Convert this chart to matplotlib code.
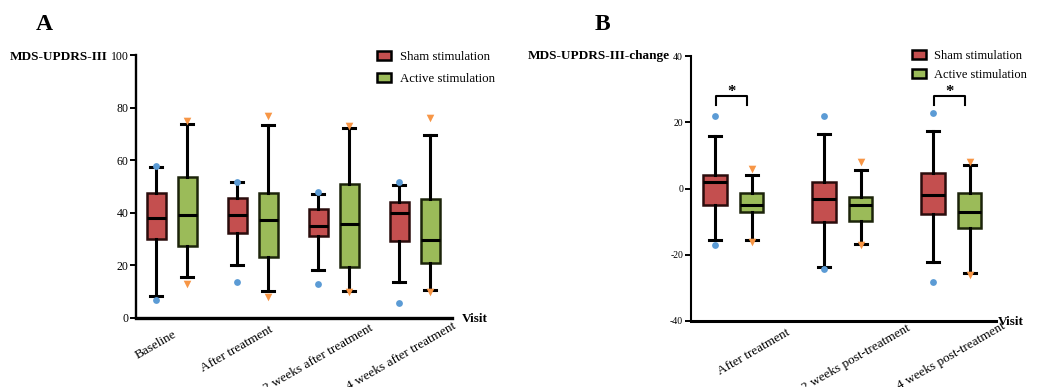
import matplotlib
matplotlib.use("Agg")
import matplotlib.pyplot as plt
from matplotlib.patches import Patch
from matplotlib.transforms import ScaledTranslation

plt.rcParams["font.family"] = ["Liberation Serif", "DejaVu Serif"]
plt.rcParams["axes.unicode_minus"] = False

# Panel A: MDS-UPDRS-III by visit   (whislo, q1, median, q3, whishi)
visits_a = ["Baseline", "After treatment", "2 weeks after treatment", "4 weeks after treatment"]
sham_a = [[8.4, 30.0, 37.9, 47.6, 57.4],
          [20.3, 32.4, 39.1, 45.7, 51.8],
          [18.1, 31.1, 34.9, 41.4, 47.0],
          [13.5, 29.3, 39.8, 44.0, 50.4]]
active_a = [[15.7, 27.3, 39.1, 53.7, 73.6],
            [10.2, 23.1, 37.4, 47.6, 73.2],
            [10.4, 19.4, 35.7, 50.8, 72.1],
            [10.5, 21.1, 29.6, 45.4, 69.4]]
sham_a_min = [6.9, 13.8, 12.9, 5.8]
sham_a_max = [57.7, 51.9, 47.8, 51.9]
active_a_min = [12.9, 8.0, 9.9, 9.9]
active_a_max = [75.0, 76.9, 73.0, 76.0]

# Panel B: change from baseline
visits_b = ["After treatment", "2 weeks post-treatment", "4 weeks post-treatment"]
sham_b = [[-15.6, -4.9, 1.9, 4.1, 15.8],
          [-23.8, -10.1, -3.3, 2.0, 16.4],
          [-22.3, -7.8, -2.0, 4.6, 17.3]]
active_b = [[-15.6, -7.0, -5.0, -1.4, 4.0],
            [-16.8, -9.8, -5.0, -2.5, 5.5],
            [-25.6, -11.8, -7.2, -1.4, 7.0]]
sham_b_min = [-17.2, -24.2, -28.1]
sham_b_max = [21.9, 21.9, 22.9]
active_b_min = [-16.0, -17.0, -26.2]
active_b_max = [6.0, 8.0, 8.0]
signif_b = [True, False, True]

SHAM_C = "#C44F4F"
ACT_C = "#9BBB59"
BLUE = "#5B9BD5"
ORANGE = "#F79646"

W, H = 1049, 387
fig = plt.figure(figsize=(W / 100, H / 100), dpi=100)


def to_stats(rows):
    return [dict(whislo=r[0], q1=r[1], med=r[2], q3=r[3], whishi=r[4], fliers=[]) for r in rows]


def draw_panel(ax, labels, sham, active, smin, smax, amin, amax, off, width, capw):
    x = list(range(len(labels)))
    ps = [i - off for i in x]
    pa = [i + off for i in x]
    for stats, pos, fc, ec in [(sham, ps, SHAM_C, "#2a0c0c"), (active, pa, ACT_C, "#1c240a")]:
        ax.bxp(to_stats(stats), positions=pos, widths=width, patch_artist=True,
               showfliers=False, capwidths=capw,
               boxprops=dict(facecolor=fc, edgecolor=ec, linewidth=1.8),
               whiskerprops=dict(color="black", linewidth=2.2),
               capprops=dict(color="black", linewidth=2.2),
               medianprops=dict(color="black", linewidth=2.2))
    ax.scatter(ps + ps, smin + smax, s=24, color=BLUE, marker="o", zorder=5, linewidths=0)
    ax.scatter(pa + pa, amin + amax, s=30, color=ORANGE, marker="v", zorder=5, linewidths=0)
    ax.set_xticks(x)
    ax.set_xticklabels(labels, rotation=30, ha="right", va="top",
                       rotation_mode="anchor", fontsize=9.5)
    ax.tick_params(axis="x", length=0, pad=0)
    ax.tick_params(axis="y", length=4.5, width=1.4, pad=1)
    for s in ["top", "right"]:
        ax.spines[s].set_visible(False)
    return ps, pa


# ---- Panel A
axA = fig.add_axes([136 / W, 1 - 318 / H, (452 - 136) / W, (318 - 55) / H])
draw_panel(axA, visits_a, sham_a, active_a, sham_a_min, sham_a_max,
           active_a_min, active_a_max, 0.19, 0.235, 0.15)
axA.set_xlim(-0.44, 3.46)
axA.set_ylim(0, 100)
axA.set_yticks([0, 20, 40, 60, 80, 100])
axA.tick_params(axis="y", labelsize=8.5)
axA.spines["left"].set_linewidth(1.7)
axA.spines["bottom"].set_linewidth(2.4)
for lab, (dx, dy) in zip(axA.get_xticklabels(), [(1, -10), (16, -6), (35, -4), (37, -2)]):
    lab.set_transform(lab.get_transform() + ScaledTranslation(dx / 100, dy / 100, fig.dpi_scale_trans))

# ---- Panel B
axB = fig.add_axes([690.7 / W, 1 - 321 / H, (996 - 690.7) / W, (321 - 56) / H])
ps, pa = draw_panel(axB, visits_b, sham_b, active_b, sham_b_min, sham_b_max,
                    active_b_min, active_b_max, 0.168, 0.217, 0.11)
axB.set_xlim(-0.39, 2.41)
axB.set_ylim(-40, 40)
axB.set_yticks([-40, -20, 0, 20, 40])
axB.tick_params(axis="y", labelsize=7)
axB.spines["left"].set_linewidth(1.5)
axB.spines["bottom"].set_linewidth(2.2)
for lab, (dx, dy) in zip(axB.get_xticklabels(), [(53, -6), (64, -1), (50, 1)]):
    lab.set_transform(lab.get_transform() + ScaledTranslation(dx / 100, dy / 100, fig.dpi_scale_trans))
for s, a, sig in zip(ps, pa, signif_b):
    if sig:
        axB.plot([s + 0.01, s + 0.01, a - 0.04, a - 0.04], [25.2, 27.9, 27.9, 25.2],
                 color="black", lw=1.5)
        axB.text((s + a) / 2 - 0.015, 29.2, "*", ha="center", va="center",
                 fontsize=12, fontweight="bold")

# ---- labels and legends
fig.text(107 / W, 1 - 57 / H, "MDS-UPDRS-III", ha="right", va="center",
         fontsize=9.5, fontweight="bold")
fig.text(670 / W, 1 - 56 / H, "MDS-UPDRS-III-change", ha="right", va="center",
         fontsize=9.5, fontweight="bold")
fig.text(462 / W, 1 - 319 / H, "Visit", ha="left", va="center", fontsize=9.5, fontweight="bold")
fig.text(998 / W, 1 - 322 / H, "Visit", ha="left", va="center", fontsize=9.5, fontweight="bold")
fig.text(36 / W, 1 - 25 / H, "A", ha="left", va="center", fontsize=17, fontweight="bold")
fig.text(595 / W, 1 - 24 / H, "B", ha="left", va="center", fontsize=17, fontweight="bold")

handles = [Patch(facecolor=SHAM_C, edgecolor="black", linewidth=1.8, label="Sham stimulation"),
           Patch(facecolor=ACT_C, edgecolor="black", linewidth=1.8, label="Active stimulation")]
fig.legend(handles=handles, loc="upper left", bbox_to_anchor=(377 / W, 1 - 51 / H),
           frameon=False, fontsize=9.3, borderpad=0, borderaxespad=0,
           handlelength=1.1, handleheight=0.7, handletextpad=0.7, labelspacing=0.78)
fig.legend(handles=handles, loc="upper left", bbox_to_anchor=(912 / W, 1 - 50 / H),
           frameon=False, fontsize=9.0, borderpad=0, borderaxespad=0,
           handlelength=1.1, handleheight=0.7, handletextpad=0.7, labelspacing=0.55)

fig.savefig("out.png", dpi=100)
